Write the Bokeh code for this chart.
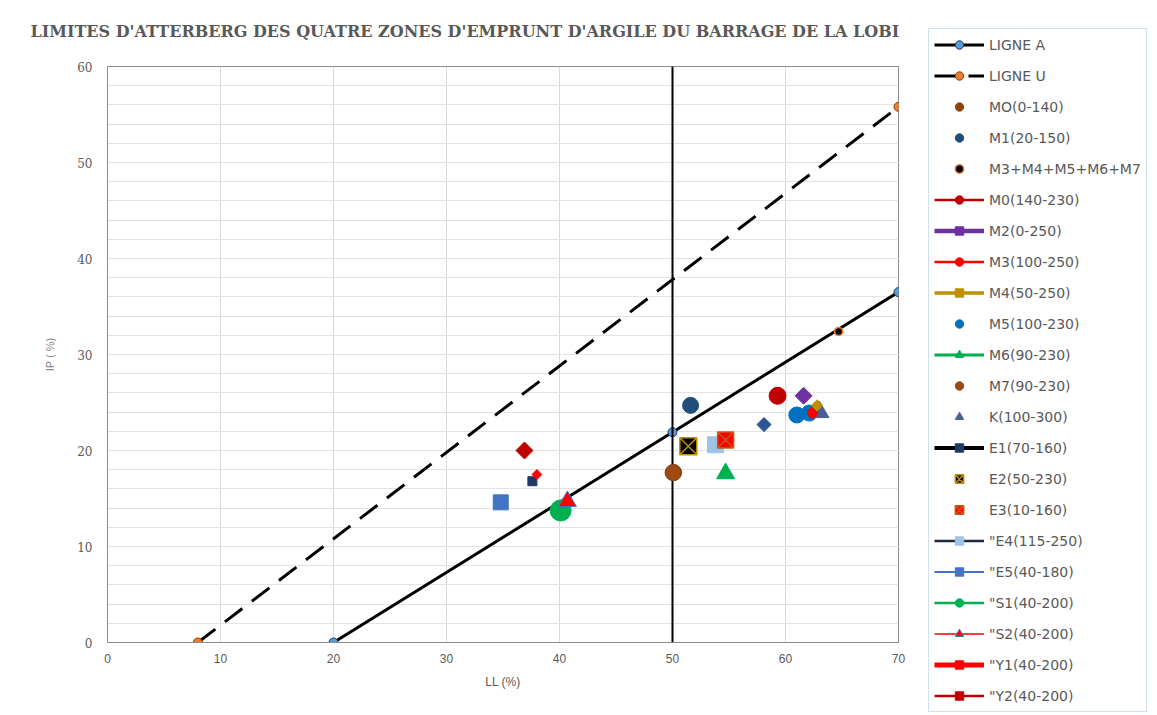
from math import pi
from bokeh.plotting import figure
from bokeh.models import Range1d, SingleIntervalTicker, Legend, LegendItem, Label
from bokeh.embed import file_html
from bokeh.resources import INLINE

# ---------------- data ----------------
ligne_a_ll = [20, 50, 70]
ligne_a_ip = [0, 21.9, 36.5]
ligne_u_ll = [8, 70]
ligne_u_ip = [0, 55.8]
limite_ll = [50, 50]
limite_ip = [0, 60]

point_serie = [
    "MO(0-140)", "M1(20-150)", "M3+M4+M5+M6+M7", "M0(140-230)", "M2(0-250)",
    "M5(100-230)", "M5(100-230)", "M3(100-250)", "M4(50-250)", "M6(90-230)",
    "M7(90-230)", "K(100-300)", "E1(70-160)", "E2(50-230)", "\"E4(115-250)",
    "E3(10-160)", "\"E5(40-180)", "\"S1(40-200)", "\"S2(40-200)", "\"Y1(40-200)",
    "\"Y2(40-200)", "autre",
]
point_ll = [50.1, 51.6, 64.7, 59.3, 61.6,
            61.0, 62.1, 62.4, 62.8, 54.7,
            50.05, 63.0, 37.6, 51.4, 53.8,
            54.7, 34.8, 40.1, 40.7, 38.0,
            36.9, 58.1]
point_ip = [17.7, 24.7, 32.4, 25.7, 25.7,
            23.7, 23.9, 23.9, 24.7, 17.6,
            17.7, 24.0, 16.8, 20.45, 20.6,
            21.1, 14.6, 13.75, 14.7, 17.5,
            20.0, 22.7]

legend_order = [
    "LIGNE A", "LIGNE U", "MO(0-140)", "M1(20-150)", "M3+M4+M5+M6+M7",
    "M0(140-230)", "M2(0-250)", "M3(100-250)", "M4(50-250)", "M5(100-230)",
    "M6(90-230)", "M7(90-230)", "K(100-300)", "E1(70-160)", "E2(50-230)",
    "E3(10-160)", "\"E4(115-250)", "\"E5(40-180)", "\"S1(40-200)",
    "\"S2(40-200)", "\"Y1(40-200)", "\"Y2(40-200)",
]

titre = "LIMITES D'ATTERBERG DES QUATRE ZONES D'EMPRUNT D'ARGILE DU BARRAGE DE LA LOBI"

# ---------------- styles (drawing order) ----------------
D = pi / 4
styles = {
    "MO(0-140)": dict(marker="circle", size=16, fill="#8B4513", line="#8B4513", lw=1, angle=0, leg=None),
    "M7(90-230)": dict(marker="circle", size=16, fill="#9E4A12", line="#8B4513", lw=1, angle=0, leg=None),
    "M1(20-150)": dict(marker="circle", size=16, fill="#1F4E79", line="#1F4E79", lw=1, angle=0, leg=None),
    "M3+M4+M5+M6+M7": dict(marker="circle", size=8, fill="black", line="#ED7D31", lw=1.5, angle=0, leg=None),
    "M0(140-230)": dict(marker="circle", size=17, fill="#C00000", line="#C00000", lw=1, angle=0, leg=("#C00000", 2.5)),
    "M2(0-250)": dict(marker="square", size=12, fill="#7030A0", line="#7030A0", lw=1, angle=D, leg=("#7030A0", 4.5)),
    "M5(100-230)": dict(marker="circle", size=16, fill="#0070C0", line="#0070C0", lw=1, angle=0, leg=None),
    "K(100-300)": dict(marker="triangle", size=19, fill="#4A5F92", line="#4A5F92", lw=1, angle=0, leg=None),
    "M3(100-250)": dict(marker="circle", size=10, fill="#FF0000", line="#FF0000", lw=1, angle=0, leg=("#FF0000", 2.5)),
    "M4(50-250)": dict(marker="square", size=8, fill="#BF9000", line="#BF9000", lw=1, angle=D, leg=("#BF9000", 3.5)),
    "M6(90-230)": dict(marker="triangle", size=18, fill="#00B050", line="#00B050", lw=1, angle=0, leg=("#00B050", 3)),
    "E1(70-160)": dict(marker="square", size=9, fill="#203864", line="#203864", lw=1, angle=0, leg=("black", 4)),
    "E2(50-230)": dict(marker="square_x", size=17, fill="black", line="#BF9000", lw=1.5, angle=0, leg=None),
    "\"E4(115-250)": dict(marker="square", size=16, fill="#9DC3E6", line="#9DC3E6", lw=1, angle=0, leg=("#1F2A44", 2.5)),
    "E3(10-160)": dict(marker="square_x", size=16, fill="#FF0000", line="#C55A11", lw=1.5, angle=0, leg=None),
    "\"E5(40-180)": dict(marker="square", size=15, fill="#4472C4", line="#4472C4", lw=1, angle=0, leg=("#4472C4", 2)),
    "\"S1(40-200)": dict(marker="circle", size=21, fill="#00B050", line="#00B050", lw=1, angle=0, leg=("#00B050", 2.5)),
    "\"S2(40-200)": dict(marker="triangle", size=18, fill="#FF0000", line="#4472C4", lw=1, angle=0, leg=("#FF0000", 1.5)),
    "\"Y1(40-200)": dict(marker="square", size=7, fill="#FF0000", line="#FF0000", lw=1, angle=D, leg=("#FF0000", 5)),
    "\"Y2(40-200)": dict(marker="square", size=12, fill="#C00000", line="#C00000", lw=1, angle=D, leg=("#C00000", 2.5)),
    "autre": dict(marker="square", size=10, fill="#2F5597", line="#2F5597", lw=1, angle=D, leg=None),
}
ref_styles = {
    "LIGNE A": dict(x=ligne_a_ll, y=ligne_a_ip, marker="circle", size=9, fill="#5B9BD5",
                    line="#1F3864", lw=1, dash="solid"),
    "LIGNE U": dict(x=ligne_u_ll, y=ligne_u_ip, marker="circle", size=9, fill="#ED7D31",
                    line="#7F3F00", lw=1, dash="22 12"),
}

GRAY = "#595959"


def series_points(name):
    xs = [x for x, s in zip(point_ll, point_serie) if s == name]
    ys = [y for y, s in zip(point_ip, point_serie) if s == name]
    return xs, ys


def draw_all(fig, with_limit):
    rend = {}
    for name, st in ref_styles.items():
        l = fig.line(st["x"], st["y"], line_color="black", line_width=3, line_dash=st["dash"])
        m = fig.scatter(st["x"], st["y"], marker=st["marker"], size=st["size"],
                        fill_color=st["fill"], line_color=st["line"], line_width=st["lw"])
        rend[name] = [l, m]
    if with_limit:
        fig.line(limite_ll, limite_ip, line_color="black", line_width=2)
    for name, st in styles.items():
        xs, ys = series_points(name)
        rs = []
        if st["leg"] is not None:
            rs.append(fig.line(xs, ys, line_color=st["leg"][0], line_width=st["leg"][1]))
        rs.append(fig.scatter(xs, ys, marker=st["marker"], size=st["size"], fill_color=st["fill"],
                              line_color=st["line"], line_width=st["lw"], angle=st["angle"]))
        rend[name] = rs
    return rend


# ---------------- main chart ----------------
p = figure(width=922, height=715, x_range=Range1d(0, 70), y_range=Range1d(0, 60),
           output_backend="svg", toolbar_location=None, title=None,
           min_border_left=107, min_border_right=24, min_border_top=66, min_border_bottom=73)
p.background_fill_color = "white"
p.border_fill_color = "white"
p.outline_line_color = "#8C8C8C"

p.xaxis.ticker = SingleIntervalTicker(interval=10, num_minor_ticks=0)
p.yaxis.ticker = SingleIntervalTicker(interval=10, num_minor_ticks=5)
for ax in (p.xaxis, p.yaxis):
    ax.major_tick_line_color = None
    ax.minor_tick_line_color = None
    ax.axis_line_color = "#8C8C8C"
    ax.major_label_text_color = GRAY
    ax.axis_label_text_font_style = "normal"
p.xaxis.major_label_text_font = "Liberation Sans"
p.xaxis.major_label_text_font_size = "12px"
p.xaxis.major_label_standoff = 5
p.yaxis.major_label_text_font = "DejaVu Serif"
p.yaxis.major_label_text_font_size = "12px"
p.yaxis.major_label_standoff = 9
p.xaxis.axis_label = "LL (%)"
p.xaxis.axis_label_text_font = "Liberation Sans"
p.xaxis.axis_label_text_font_size = "12px"
p.xaxis.axis_label_text_color = GRAY
p.xaxis.axis_label_standoff = 9
p.yaxis.axis_label = "IP ( %)"
p.yaxis.axis_label_text_font = "Liberation Sans"
p.yaxis.axis_label_text_font_size = "11px"
p.yaxis.axis_label_text_color = "#7F7F7F"
p.yaxis.axis_label_standoff = 18

p.xgrid.grid_line_color = "#D9D9D9"
p.ygrid.grid_line_color = "#E3E3E3"
p.ygrid.minor_grid_line_color = "#E3E3E3"

draw_all(p, True)

# ---------------- title strip (placed over the top border) ----------------
tt = figure(width=922, height=30, x_range=Range1d(0, 1), y_range=Range1d(0, 1),
            output_backend="svg", toolbar_location=None, title=None,
            x_axis_location=None, y_axis_location=None, min_border=0)
tt.outline_line_color = None
tt.background_fill_alpha = 0
tt.border_fill_alpha = 0
tt.xgrid.visible = False
tt.ygrid.visible = False
tt.styles = {"position": "absolute", "left": "0px", "top": "16px"}
tt.add_layout(Label(x=30, y=15, x_units="screen", y_units="screen", text=titre,
                    text_font="DejaVu Serif", text_font_style="bold", text_font_size="16px",
                    text_color=GRAY, text_baseline="middle", text_align="left"))

# ---------------- legend panel (placed at the right) ----------------
lg = figure(width=235, height=715, x_range=Range1d(-2, -1), y_range=Range1d(-2, -1),
            output_backend="svg", toolbar_location=None, title=None,
            x_axis_location=None, y_axis_location=None, min_border=0)
lg.outline_line_color = None
lg.background_fill_color = "white"
lg.border_fill_color = "white"
lg.xgrid.visible = False
lg.ygrid.visible = False
lg.styles = {"position": "absolute", "left": "922px", "top": "0px"}

leg_rend = draw_all(lg, False)
items = [LegendItem(label=n, renderers=leg_rend[n]) for n in legend_order]
legend = Legend(items=items, location=(6, 3), orientation="vertical",
                glyph_width=50, glyph_height=21, label_height=21, spacing=10,
                padding=5, margin=0, label_standoff=5,
                label_text_font="DejaVu Sans", label_text_font_size="14px",
                label_text_color=GRAY, border_line_color="#9DC3E6", border_line_width=1,
                background_fill_color="white", background_fill_alpha=1.0)
lg.add_layout(legend)

open("out.html", "w").write(file_html([p, tt, lg], INLINE))
